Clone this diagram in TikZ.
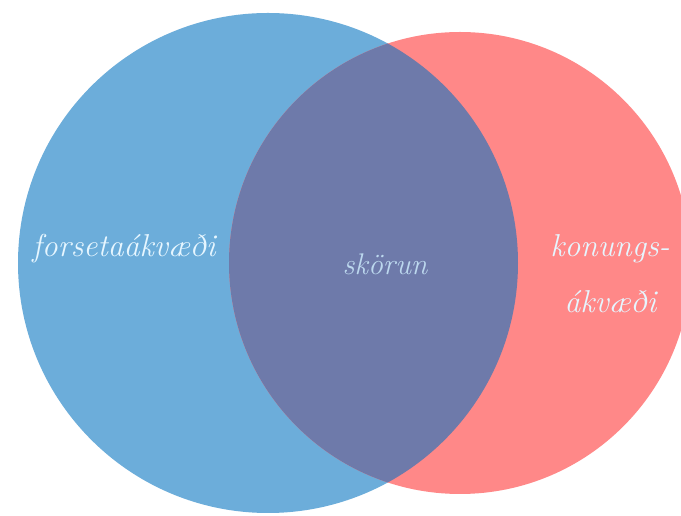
\documentclass[tikz,border=0pt]{standalone}
\usepackage{fontspec}
\setmainfont{Latin Modern Roman}
\definecolor{cblue}{HTML}{6CADDA}
\definecolor{cred}{HTML}{FF8888}
\definecolor{cmix}{HTML}{6E7AAA}
\definecolor{ctext}{HTML}{E6F6FF}
\definecolor{cmidtext}{HTML}{BCD8EE}
\tikzset{
  lbl/.style={font=\itshape\fontsize{18}{32}\selectfont, text=ctext, inner sep=0pt},
  midlbl/.style={font=\itshape\fontsize{17}{20}\selectfont, text=cmidtext, inner sep=0pt}
}
\begin{document}
\begin{tikzpicture}[x=0.02cm,y=-0.02cm]
\useasboundingbox (0,0) rectangle (681,516);
\fill[white] (0,0) rectangle (681,516);
\coordinate (cb) at (268,263);
\coordinate (cr) at (460,263);
\fill[cblue] (cb) circle[radius=250];
\fill[cred] (cr) circle[radius=231];
\begin{scope}
  \clip (cb) circle[radius=250];
  \fill[cmix] (cr) circle[radius=231];
\end{scope}
\node[lbl] (a) at (124,249) {forsetaákvæði};
\node[midlbl] (c) at (385,264) {skörun};
\node[lbl, align=left, anchor=west] (b) at (550,274) {konungs-\\\hspace*{0.45em}ákvæði};
\end{tikzpicture}
\end{document}
